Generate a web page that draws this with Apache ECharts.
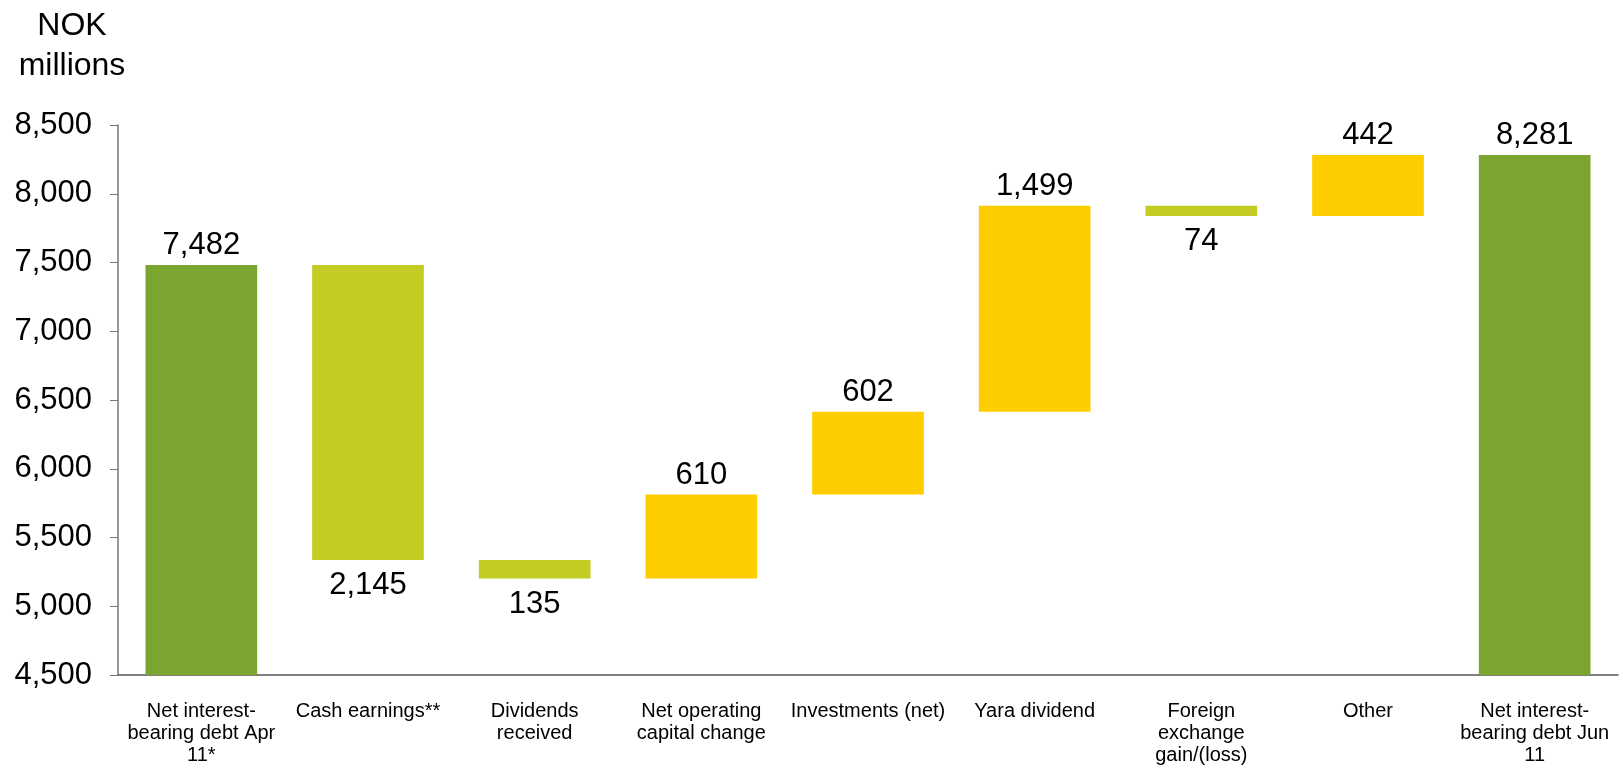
<!DOCTYPE html>
<html>
<head>
<meta charset="utf-8">
<script src="https://cdn.jsdelivr.net/npm/echarts@6/dist/echarts.min.js"></script>
<style>
    html, body { margin: 0; padding: 0; background: #fff; }
    #chart { width: 1623px; height: 772px; }
</style>
</head>
<body>
<div id="chart"></div>
<script>
var categories = [
    'Net interest-\nbearing debt Apr\n11*',
    'Cash earnings**',
    'Dividends\nreceived',
    'Net operating\ncapital change',
    'Investments (net)',
    'Yara dividend',
    'Foreign\nexchange\ngain/(loss)',
    'Other',
    'Net interest-\nbearing debt Jun\n11'
];
// first and last are totals, the rest are changes
var changes = [7482, -2145, -135, 610, 602, 1499, -74, 442, 8281];
var kinds = ['total', 'down', 'down', 'up', 'up', 'up', 'down', 'up', 'total'];
var yTicks = [4500, 5000, 5500, 6000, 6500, 7000, 7500, 8000, 8500];

var colors = { total: '#7ca530', down: '#c2cc22', up: '#fecd00' };

var fmt = v => Math.abs(v).toLocaleString('en-US');

// build base + visible bar parts
var baseData = [], barData = [];
var running = 0;
changes.forEach((v, i) => {
    var k = kinds[i];
    if (k == 'total') {
        running = v;
        baseData.push(0);
        barData.push({ value: v, itemStyle: { color: colors.total }, label: { position: 'top' } });
    } else {
        var next = running + v;
        baseData.push(Math.min(running, next));
        barData.push({
            value: Math.abs(v),
            itemStyle: { color: colors[k] },
            label: { position: k == 'up' ? 'top' : 'bottom', distance: k == 'up' ? 4 : 10 }
        });
        running = next;
    }
});

var chart = echarts.init(document.getElementById('chart'));

var option = {
    animation: false,
    textStyle: { fontFamily: 'Liberation Sans, Arial, sans-serif' },
    title: {
        text: 'NOK\nmillions',
        left: 67,
        top: 1,
        textAlign: 'center',
        textStyle: { fontSize: 32, fontWeight: 'normal', color: '#000', lineHeight: 40, fontFamily: 'Liberation Sans' }
    },
    grid: { left: 118, right: 5, top: 125, bottom: 97 },
    xAxis: {
        type: 'category',
        data: categories,
        axisLine: { lineStyle: { color: '#555', width: 1.5 } },
        axisTick: { show: false },
        axisLabel: {
            interval: 0,
            margin: 25,
            fontSize: 20,
            lineHeight: 22,
            color: '#000',
            verticalAlign: 'top'
        }
    },
    yAxis: {
        type: 'value',
        min: yTicks[0],
        max: yTicks[yTicks.length - 1],
        interval: 500,
        splitLine: { show: false },
        axisLine: { show: true, lineStyle: { color: '#777', width: 1.5 } },
        axisTick: { show: true, length: 8, lineStyle: { color: '#777' } },
        axisLabel: {
            fontSize: 31,
            color: '#000',
            margin: 26,
            formatter: v => v.toLocaleString('en-US')
        }
    },
    series: [
        {
            type: 'bar',
            stack: 'wf',
            data: baseData,
            itemStyle: { color: 'transparent' },
            silent: true,
            barCategoryGap: '33%'
        },
        {
            type: 'bar',
            stack: 'wf',
            data: barData,
            barCategoryGap: '33%',
            label: {
                show: true,
                fontSize: 31,
                color: '#000',
                distance: 4,
                formatter: p => fmt(changes[p.dataIndex])
            }
        }
    ]
};

chart.setOption(option);
</script>
</body>
</html>
